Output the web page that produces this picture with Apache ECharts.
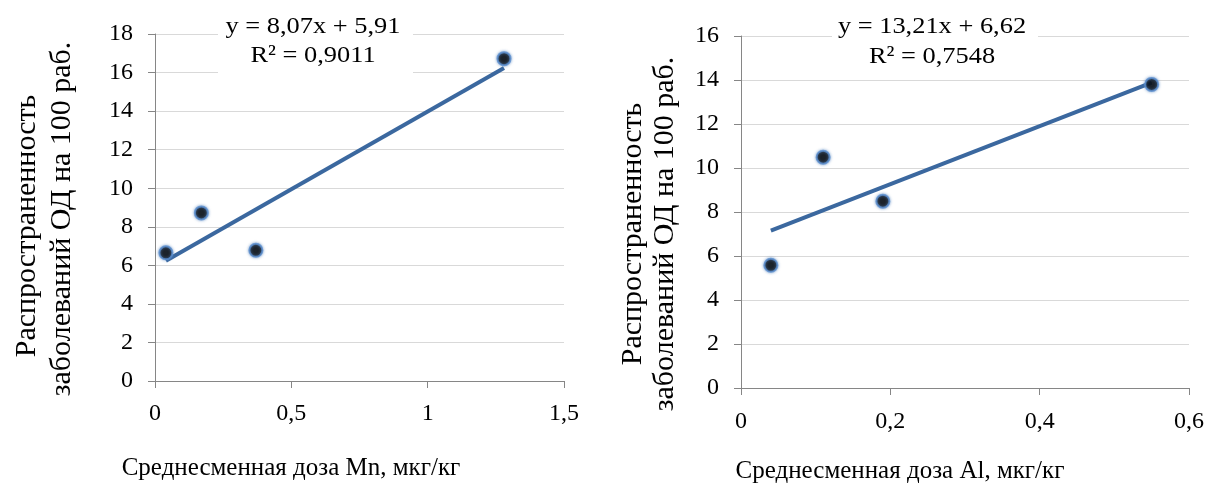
<!DOCTYPE html>
<html>
<head>
<meta charset="utf-8">
<script src="https://cdn.jsdelivr.net/npm/echarts@6/dist/echarts.min.js"></script>
<style>html,body{margin:0;padding:0;background:#fff}#c{width:1209px;height:489px}</style>
</head>
<body>
<div id="c"></div>
<script>
// Left chart: Mn
const mnX = [0.04, 0.17, 0.37, 1.28];
const mnY = [6.65, 8.72, 6.78, 16.72];
const mnTrend = { slope: 8.07, intercept: 5.91 };
const mnEq = ['y = 8,07x + 5,91', 'R² = 0,9011'];
const mnXTitle = 'Среднесменная доза Mn, мкг/кг';

// Right chart: Al
const alX = [0.04, 0.11, 0.19, 0.55];
const alY = [5.58, 10.49, 8.49, 13.8];
const alTrend = { slope: 13.21, intercept: 6.62 };
const alEq = ['y = 13,21x + 6,62', 'R² = 0,7548'];
const alXTitle = 'Среднесменная доза Al, мкг/кг';

const yTitle = ['Распространенность', 'заболеваний ОД на 100 раб.'];

const FONT = '"Liberation Serif", "Times New Roman", serif';
const fmt = v => String(v).replace('.', ',');

function trendLine(xs, t) {
  const x0 = Math.min(...xs), x1 = Math.max(...xs);
  return [[x0, t.slope * x0 + t.intercept], [x1, t.slope * x1 + t.intercept]];
}
function pts(xs, ys) { return xs.map((x, i) => [x, ys[i]]); }

const axisCommon = {
  axisLine: { show: true, lineStyle: { color: '#868686', width: 1 } },
  axisTick: { show: true, inside: false, length: 7, lineStyle: { color: '#868686' } },
  axisLabel: { color: '#000', fontFamily: FONT, fontSize: 24, formatter: fmt },
};
function lbl(margin) { return Object.assign({}, axisCommon.axisLabel, { margin: margin }); }

const txt = (x, y, text, size, extra) => Object.assign({
  type: 'text', x: x, y: y, z: 11,
  style: { text: text, font: size + 'px ' + FONT, fill: '#000', align: 'center', verticalAlign: 'middle' }
}, extra || {});

const chart = echarts.init(document.getElementById('c'), null, { renderer: 'canvas' });
chart.setOption({
  backgroundColor: '#fff',
  animation: false,
  grid: [
    { left: 155, right: 645, top: 34, bottom: 108, containLabel: false },
    { left: 741, right: 20, top: 36, bottom: 101, containLabel: false }
  ],
  xAxis: [
    Object.assign({ gridIndex: 0, type: 'value', min: 0, max: 1.5, interval: 0.5,
      splitLine: { show: false } }, axisCommon, { axisLabel: lbl(21) }),
    Object.assign({ gridIndex: 1, type: 'value', min: 0, max: 0.6, interval: 0.2,
      splitLine: { show: false } }, axisCommon, { axisLabel: lbl(22) })
  ],
  yAxis: [
    Object.assign({ gridIndex: 0, type: 'value', min: 0, max: 18, interval: 2,
      splitLine: { show: true, lineStyle: { color: '#d9d9d9', width: 1 } } }, axisCommon, { axisLabel: lbl(22) }),
    Object.assign({ gridIndex: 1, type: 'value', min: 0, max: 16, interval: 2,
      splitLine: { show: true, lineStyle: { color: '#d9d9d9', width: 1 } } }, axisCommon, { axisLabel: lbl(22) })
  ],
  series: [
    { type: 'line', xAxisIndex: 0, yAxisIndex: 0, data: trendLine(mnX, mnTrend), symbol: 'none',
      lineStyle: { color: '#3b689f', width: 4 }, z: 2 },
    { type: 'scatter', xAxisIndex: 0, yAxisIndex: 0, data: pts(mnX, mnY), symbolSize: 13,
      itemStyle: { color: '#000', borderColor: '#5b8fcf', borderWidth: 2, shadowColor: 'rgba(79,129,189,0.8)', shadowBlur: 3 }, z: 3 },
    { type: 'line', xAxisIndex: 1, yAxisIndex: 1, data: trendLine(alX, alTrend), symbol: 'none',
      lineStyle: { color: '#3b689f', width: 4 }, z: 2 },
    { type: 'scatter', xAxisIndex: 1, yAxisIndex: 1, data: pts(alX, alY), symbolSize: 13,
      itemStyle: { color: '#000', borderColor: '#5b8fcf', borderWidth: 2, shadowColor: 'rgba(79,129,189,0.8)', shadowBlur: 3 }, z: 3 }
  ],
  graphic: [
    { type: 'rect', shape: { x: 218, y: 6, width: 195, height: 72 }, style: { fill: '#fff' }, z: 10 },
    txt(313, 27, mnEq[0], 24, { scaleX: 1.1 }),
    txt(313, 56, mnEq[1], 24, { scaleX: 1.1 }),
    { type: 'rect', shape: { x: 832, y: 6, width: 206, height: 66 }, style: { fill: '#fff' }, z: 10 },
    txt(932, 27, alEq[0], 24, { scaleX: 1.1 }),
    txt(932, 57, alEq[1], 24, { scaleX: 1.1 }),
    txt(291, 468, mnXTitle, 25),
    txt(900, 471, alXTitle, 25),
    txt(27, 226, yTitle[0], 30, { rotation: Math.PI / 2 }),
    txt(62, 219, yTitle[1], 30, { rotation: Math.PI / 2 }),
    txt(633, 234, yTitle[0], 30, { rotation: Math.PI / 2 }),
    txt(665, 234, yTitle[1], 30, { rotation: Math.PI / 2 })
  ]
});
</script>
</body>
</html>
